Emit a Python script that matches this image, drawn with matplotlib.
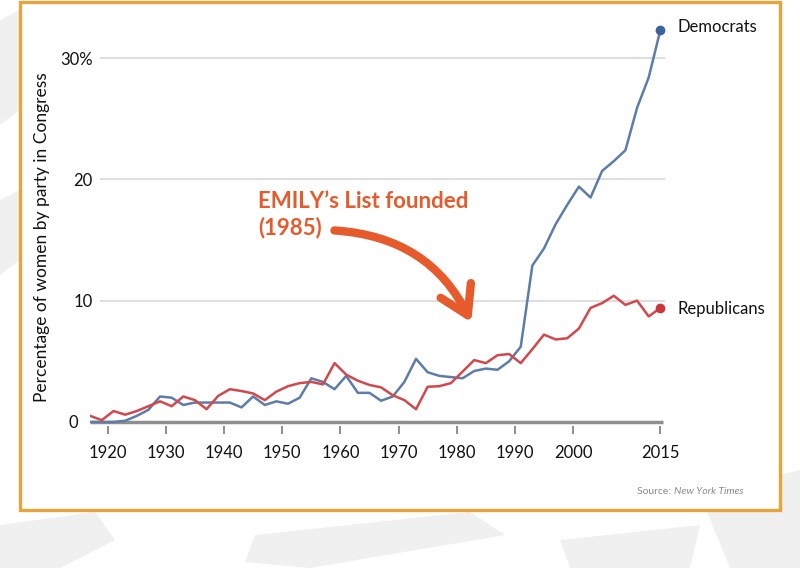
import matplotlib
matplotlib.use("Agg")
import matplotlib.pyplot as plt
from matplotlib.patches import Rectangle, Polygon, FancyArrowPatch
from matplotlib.transforms import ScaledTranslation

plt.rcParams['font.family'] = ['Lato', 'DejaVu Sans']

# one point per Congress (start year)
years = [1917, 1919, 1921, 1923, 1925, 1927, 1929, 1931, 1933, 1935,
         1937, 1939, 1941, 1943, 1945, 1947, 1949, 1951, 1953, 1955,
         1957, 1959, 1961, 1963, 1965, 1967, 1969, 1971, 1973, 1975,
         1977, 1979, 1981, 1983, 1985, 1987, 1989, 1991, 1993, 1995,
         1997, 1999, 2001, 2003, 2005, 2007, 2009, 2011, 2013, 2015]
dem_pct = [0.0, 0.0, 0.0, 0.1, 0.5, 1.0, 2.1, 2.0, 1.4, 1.6,
           1.6, 1.6, 1.6, 1.2, 2.1, 1.4, 1.7, 1.5, 2.0, 3.6,
           3.3, 2.7, 3.8, 2.4, 2.4, 1.75, 2.1, 3.3, 5.2, 4.1,
           3.8, 3.7, 3.6, 4.2, 4.4, 4.3, 5.0, 6.2, 12.9, 14.3,
           16.3, 17.9, 19.4, 18.5, 20.7, 21.5, 22.4, 25.9, 28.4, 32.3]
rep_pct = [0.5, 0.15, 0.9, 0.6, 0.9, 1.3, 1.7, 1.3, 2.1, 1.8,
           1.05, 2.15, 2.7, 2.55, 2.35, 1.8, 2.5, 2.95, 3.2, 3.3,
           3.1, 4.85, 3.9, 3.4, 3.05, 2.85, 2.2, 1.8, 1.05, 2.9,
           2.95, 3.2, 4.15, 5.1, 4.85, 5.5, 5.6, 4.85, 6.0, 7.2,
           6.8, 6.9, 7.7, 9.4, 9.8, 10.4, 9.65, 10.0, 8.7, 9.4]

xticks = [1920, 1930, 1940, 1950, 1960, 1970, 1980, 1990, 2000, 2015]
yticks = [0, 10, 20, 30]
ytick_labels = ['0', '10', '20', '30%']

BLUE = '#5d7ca8'
RED = '#d2484d'
ORANGE = '#e65a2b'
W, H = 800, 568


def fx(px):
    return px / W


def fy(py):
    return 1 - py / H


fig = plt.figure(figsize=(8, 5.68), dpi=100)
fig.patch.set_facecolor('white')

# faint brush strokes behind the card
strokes = [
    [(0, 20), (20, 10), (20, 110), (0, 125)],
    [(0, 200), (20, 190), (20, 260), (0, 275)],
    [(0, 525), (95, 512), (115, 540), (60, 568), (0, 568)],
    [(255, 535), (470, 512), (505, 535), (310, 568), (245, 562)],
    [(560, 540), (700, 525), (690, 568), (570, 568)],
    [(700, 495), (800, 470), (800, 568), (730, 568)],
]
for pts in strokes:
    fig.patches.append(Polygon([(fx(x), fy(y)) for x, y in pts], closed=True,
                               transform=fig.transFigure, fc='#f0f0f0',
                               ec='none', zorder=-3))

card = Rectangle((fx(20), fy(510)), 760 / W, 508 / H, transform=fig.transFigure,
                 fc='white', ec='#e8a33c', lw=2.4, zorder=-2)
fig.patches.append(card)

ax = fig.add_axes([0.1125, 0.2507, 0.71875, 0.7155])
ax.set_facecolor('none')
ax.set_xlim(1916.96, 2015.8)
ax.set_ylim(-0.3, 33.2)
for s in ax.spines.values():
    s.set_visible(False)

for v in yticks[1:]:
    ax.hlines(v, 1918.7, 2015.8, color='#dedede', lw=1.5, zorder=1)
ax.hlines(0, 1917, 2015.4, color='#8e8e8e', lw=2.5, zorder=2)

ax.plot(years, dem_pct, color=BLUE, lw=1.8, zorder=3)
ax.plot(years, rep_pct, color=RED, lw=1.8, zorder=3)
ax.plot(years[-1], dem_pct[-1], 'o', color='#3d62a0', ms=6, zorder=4)
ax.plot(years[-1], rep_pct[-1], 'o', color='#c9363c', ms=6, zorder=4)

ax.set_xticks(xticks)
ax.set_xticklabels([str(y) for y in xticks])
ax.tick_params(axis='x', length=6, width=1.4, color='#8e8e8e', pad=8,
               labelsize=12, labelcolor='#111111')
ax.set_yticks(yticks)
ax.set_yticklabels(ytick_labels)
ax.tick_params(axis='y', length=0, pad=-2, labelsize=12, labelcolor='#111111')
zero_lbl = ax.get_yticklabels()[0]
zero_lbl.set_transform(zero_lbl.get_transform() +
                       ScaledTranslation(-15 / 100, 0, fig.dpi_scale_trans))

ax.annotate('Democrats', xy=(years[-1], dem_pct[-1]), xytext=(12, 2),
            textcoords='offset points', va='center', fontsize=12, color='#111111')
ax.annotate('Republicans', xy=(years[-1], rep_pct[-1]), xytext=(12, -1),
            textcoords='offset points', va='center', fontsize=12, color='#111111')

ax.text(1945.8, 19.05, 'EMILY\u2019s List founded\n(1985)', ha='left', va='top',
        fontsize=16, fontweight='bold', color=ORANGE, linespacing=1.25)
arrow = FancyArrowPatch((1958.5, 15.8), (1982.7, 8.0),
                        connectionstyle='arc3,rad=-0.3',
                        arrowstyle='->,head_length=0.9,head_width=0.55',
                        mutation_scale=22, color=ORANGE, lw=6,
                        capstyle='round', joinstyle='round', zorder=5)
ax.add_patch(arrow)

fig.text(fx(42), fy(237), 'Percentage of women by party in Congress',
         rotation=90, ha='center', va='center', fontsize=12.5, color='#111111')

src = fig.text(fx(637), fy(492), 'Source: ', ha='left', va='center',
               fontsize=7.5, color='#8a8a8a')
fig.add_artist(plt.Annotation('New York Times', xy=(1, 0), xycoords=src,
                              va='bottom', ha='left', fontsize=7.5,
                              fontstyle='italic', color='#8a8a8a'))

fig.savefig('out.png', dpi=100)
